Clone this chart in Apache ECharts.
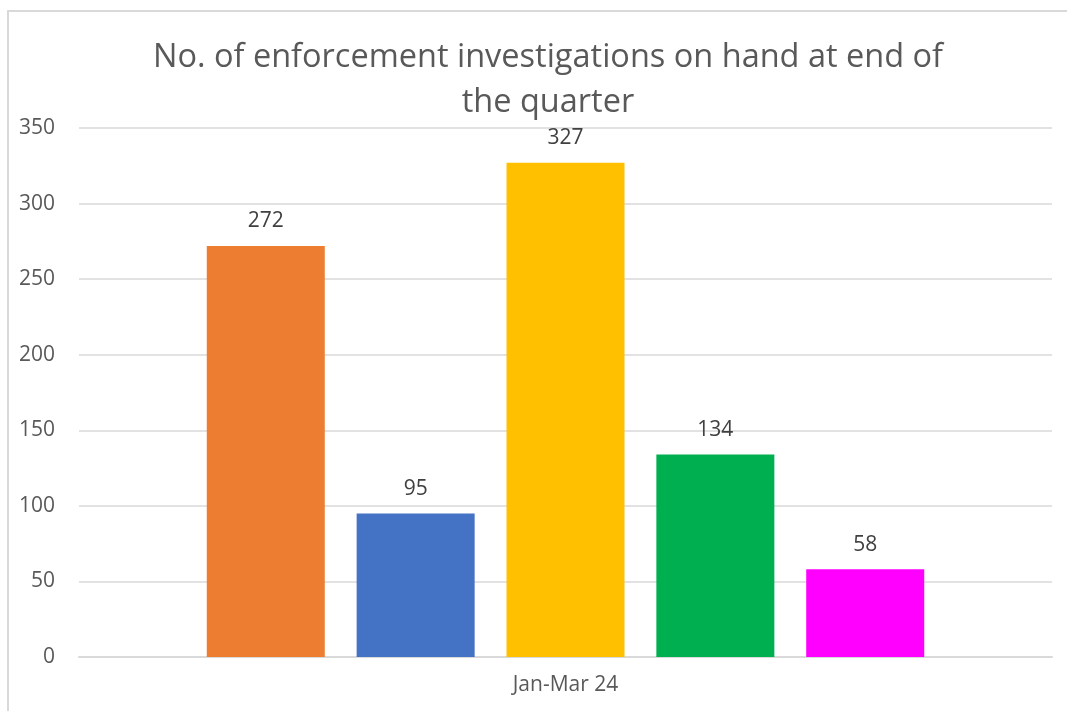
<!DOCTYPE html>
<html>
<head>
<meta charset="utf-8">
<script src="https://cdn.jsdelivr.net/npm/echarts@6/dist/echarts.min.js"></script>
<style>
  html, body { margin: 0; padding: 0; background: #fff; }
  #chart { width: 1067px; height: 711px; }
</style>
</head>
<body>
<div id="chart"></div>
<script>
var categories = ["Jan-Mar 24"];
var seriesNames = ["Series 1", "Series 2", "Series 3", "Series 4", "Series 5"];
var seriesValues = [272, 95, 327, 134, 58];
var seriesColors = ["#ED7D31", "#4472C4", "#FFC000", "#00B050", "#FF00FF"];

var chart = echarts.init(document.getElementById("chart"));

var series = seriesValues.map(function (v, i) {
  return {
    name: seriesNames[i],
    type: "bar",
    data: [v],
    barWidth: 118,
    barGap: "27%",
    itemStyle: { color: seriesColors[i] },
    label: {
      show: true,
      position: "top",
      distance: 14,
      color: "#404040",
      fontSize: 21,
      fontFamily: "Open Sans"
    }
  };
});

chart.setOption({
  animation: false,
  backgroundColor: "#fff",
  title: {
    text: "No. of enforcement investigations on hand at end of\nthe quarter",
    left: 543,
    top: 30,
    textAlign: "center",
    textStyle: {
      color: "#595959",
      fontSize: 32.5,
      fontWeight: "normal",
      fontFamily: "Open Sans",
      lineHeight: 45
    }
  },
  graphic: [
    {
      type: "rect",
      shape: { x: 8, y: 11, width: 1100, height: 760 },
      style: { fill: "none", stroke: "#d9d9d9", lineWidth: 2 },
      silent: true
    }
  ],
  grid: { left: 79, right: 15, top: 128, bottom: 54 },
  xAxis: {
    type: "category",
    data: categories,
    axisLine: { lineStyle: { color: "#d9d9d9", width: 2 } },
    axisTick: { show: false },
    axisLabel: { color: "#595959", fontSize: 21, fontFamily: "Open Sans", margin: 18 }
  },
  yAxis: {
    type: "value",
    min: 0,
    max: 350,
    interval: 50,
    axisLine: { show: false },
    axisTick: { show: false },
    axisLabel: { color: "#595959", fontSize: 21, fontFamily: "Open Sans", margin: 24 },
    splitLine: { lineStyle: { color: "#d9d9d9", width: 1.5 } }
  },
  series: series
});
</script>
</body>
</html>
